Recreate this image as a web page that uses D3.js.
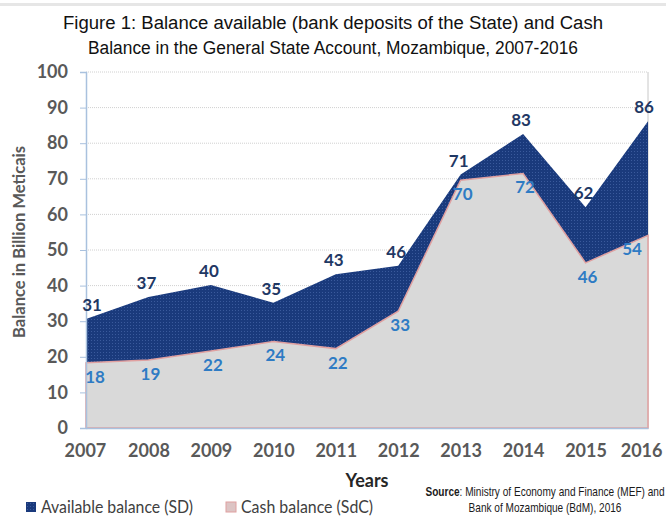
<!DOCTYPE html>
<html>
<head>
<meta charset="utf-8">
<script src="https://cdn.jsdelivr.net/npm/d3@7"></script>
<style>
  body { margin: 0; background: #fff; }
  svg { display: block; }
</style>
</head>
<body>
<svg id="chart"></svg>
<script>
// chart values
const years = ["2007", "2008", "2009", "2010", "2011", "2012", "2013", "2014", "2015", "2016"];
const availableSD = [30.6, 36.8, 40.2, 35.2, 43.2, 45.6, 71.2, 82.6, 62.0, 86.2];
const cashSdC = [18.3, 19.1, 21.6, 24.3, 22.3, 32.8, 69.6, 71.5, 46.4, 54.1];
const yTicks = [0, 10, 20, 30, 40, 50, 60, 70, 80, 90, 100];

const W = 666, H = 518;
const margin = { left: 86, right: 18, top: 72, bottom: 90 };

const svg = d3.select("#chart").attr("width", W).attr("height", H);

const defs = svg.append("defs");
const pat = defs.append("pattern")
  .attr("id", "dots")
  .attr("width", 3).attr("height", 3)
  .attr("patternUnits", "userSpaceOnUse");
pat.append("rect").attr("width", 3).attr("height", 3).attr("fill", "#1a3a7c");
pat.append("rect").attr("x", 1).attr("y", 1).attr("width", 1).attr("height", 1).attr("fill", "#3a5a9c");

// top gray band
svg.append("rect").attr("x", 0).attr("y", 3).attr("width", W).attr("height", 3).attr("fill", "#e6e6e6");

const x = d3.scalePoint().domain(years).range([margin.left, W - margin.right]);
const y = d3.scaleLinear().domain([0, 100]).range([H - margin.bottom, margin.top]);

// gridlines
svg.append("g")
  .selectAll("line")
  .data(yTicks.slice(1))
  .join("line")
  .attr("x1", margin.left).attr("x2", W - margin.right)
  .attr("y1", d => y(d)).attr("y2", d => y(d))
  .attr("stroke", "#d0d0d0").attr("stroke-dasharray", "1,1");

// right frame
svg.append("line")
  .attr("x1", W - margin.right).attr("x2", W - margin.right)
  .attr("y1", y(100)).attr("y2", y(0))
  .attr("stroke", "#c8c8c8");

const rows = years.map((yr, i) => ({ yr, sd: availableSD[i], c: cashSdC[i] }));

const areaSD = d3.area().x(d => x(d.yr)).y0(y(0)).y1(d => y(d.sd));
const areaC = d3.area().x(d => x(d.yr)).y0(y(0)).y1(d => y(d.c));

svg.append("path").datum(rows).attr("d", areaSD).attr("fill", "url(#dots)");
svg.append("path").datum(rows).attr("d", areaC)
  .attr("fill", "#d9d9d9").attr("stroke", "#e0a0a0").attr("stroke-width", 1.5);

// axes
const axisColor = "#a9c1de";
const yAxis = svg.append("g")
  .attr("transform", `translate(${margin.left},0)`)
  .call(d3.axisLeft(y).tickValues(yTicks).tickSize(6).tickPadding(12));
const xAxis = svg.append("g")
  .attr("transform", `translate(0,${y(0)})`)
  .call(d3.axisBottom(x).tickSize(0).tickPadding(16));

[yAxis, xAxis].forEach(g => {
  g.select(".domain").attr("stroke", axisColor).attr("stroke-width", 1.5);
  g.selectAll(".tick line").attr("stroke", axisColor);
  g.selectAll("text")
    .attr("fill", "#595959")
    .style("font-family", "Lato, 'Open Sans', sans-serif")
    .style("font-weight", "bold")
    .style("font-size", "18px");
});
xAxis.selectAll(".tick text")
  .attr("text-anchor", (d, i) => i === years.length - 1 ? "end" : (i === 0 ? "start" : "middle"))
  .attr("dx", (d, i) => i === years.length - 1 ? 14 : (i === 0 ? -22 : 0));

// data labels
const fmt = d3.format(".0f");
svg.append("g").selectAll("text")
  .data(rows)
  .join("text")
  .attr("x", (d, i) => x(d.yr) + (i === 0 ? 6 : (i === years.length - 1 ? -4 : -2)))
  .attr("y", d => y(d.sd) - 8)
  .attr("text-anchor", "middle")
  .attr("fill", "#1f3864")
  .style("font-family", "Lato, sans-serif").style("font-weight", "bold").style("font-size", "17px")
  .text(d => fmt(d.sd));

svg.append("g").selectAll("text")
  .data(rows)
  .join("text")
  .attr("x", (d, i) => x(d.yr) + (i === 0 ? 9 : (i === years.length - 1 ? -16 : 2)))
  .attr("y", d => y(d.c) + 20)
  .attr("text-anchor", "middle")
  .attr("fill", "#2e7bc4")
  .style("font-family", "Lato, sans-serif").style("font-weight", "bold").style("font-size", "17px")
  .text(d => fmt(d.c));

// title
const title = svg.append("text")
  .attr("text-anchor", "middle")
  .attr("fill", "#111")
  .style("font-family", "'Liberation Sans', Arial, sans-serif")
  .style("font-size", "18px");
title.append("tspan").attr("x", 333).attr("y", 29)
  .attr("textLength", 540).attr("lengthAdjust", "spacingAndGlyphs")
  .text("Figure 1: Balance available (bank deposits of the State) and Cash");
title.append("tspan").attr("x", 333).attr("y", 54)
  .attr("textLength", 490).attr("lengthAdjust", "spacingAndGlyphs")
  .text("Balance in the General State Account, Mozambique, 2007-2016");

// axis titles
svg.append("text")
  .attr("x", 367).attr("y", 487)
  .attr("text-anchor", "middle")
  .attr("fill", "#262626")
  .style("font-family", "Lato, sans-serif").style("font-weight", "bold").style("font-size", "18px")
  .text("Years");

svg.append("text")
  .attr("transform", `translate(25,242) rotate(-90)`)
  .attr("text-anchor", "middle")
  .attr("fill", "#595959")
  .attr("textLength", 192).attr("lengthAdjust", "spacingAndGlyphs")
  .style("font-family", "Lato, sans-serif").style("font-weight", "bold").style("font-size", "17px")
  .text("Balance in Billion Meticais");

// legend
const legend = [
  { label: "Available balance (SD)", fill: "url(#dots)", stroke: "none", x: 26, len: 152 },
  { label: "Cash balance (SdC)", fill: "#dcc4c4", stroke: "#e0a0a0", x: 226, len: 132 }
];
const lg = svg.append("g").selectAll("g").data(legend).join("g")
  .attr("transform", d => `translate(${d.x},502)`);
lg.append("rect").attr("width", 10).attr("height", 10)
  .attr("fill", d => d.fill).attr("stroke", d => d.stroke);
lg.append("text").attr("x", 15).attr("y", 11)
  .attr("fill", "#404040")
  .attr("textLength", d => d.len).attr("lengthAdjust", "spacingAndGlyphs")
  .style("font-family", "Lato, sans-serif").style("font-size", "17px")
  .text(d => d.label);

// source note
const srcG = svg.append("g").attr("transform", "translate(545,0) scale(0.84,1)");
const src = srcG.append("text")
  .attr("text-anchor", "middle")
  .attr("fill", "#1a1a1a")
  .style("font-family", "'Liberation Sans', Arial, sans-serif")
  .style("font-size", "12px");
const s1 = src.append("tspan").attr("x", 0).attr("y", 496);
s1.append("tspan").style("font-weight", "bold").text("Source");
s1.append("tspan").text(": Ministry of Economy and Finance (MEF) and");
src.append("tspan").attr("x", 0).attr("y", 512).text("Bank of Mozambique (BdM), 2016");
</script>
</body>
</html>
